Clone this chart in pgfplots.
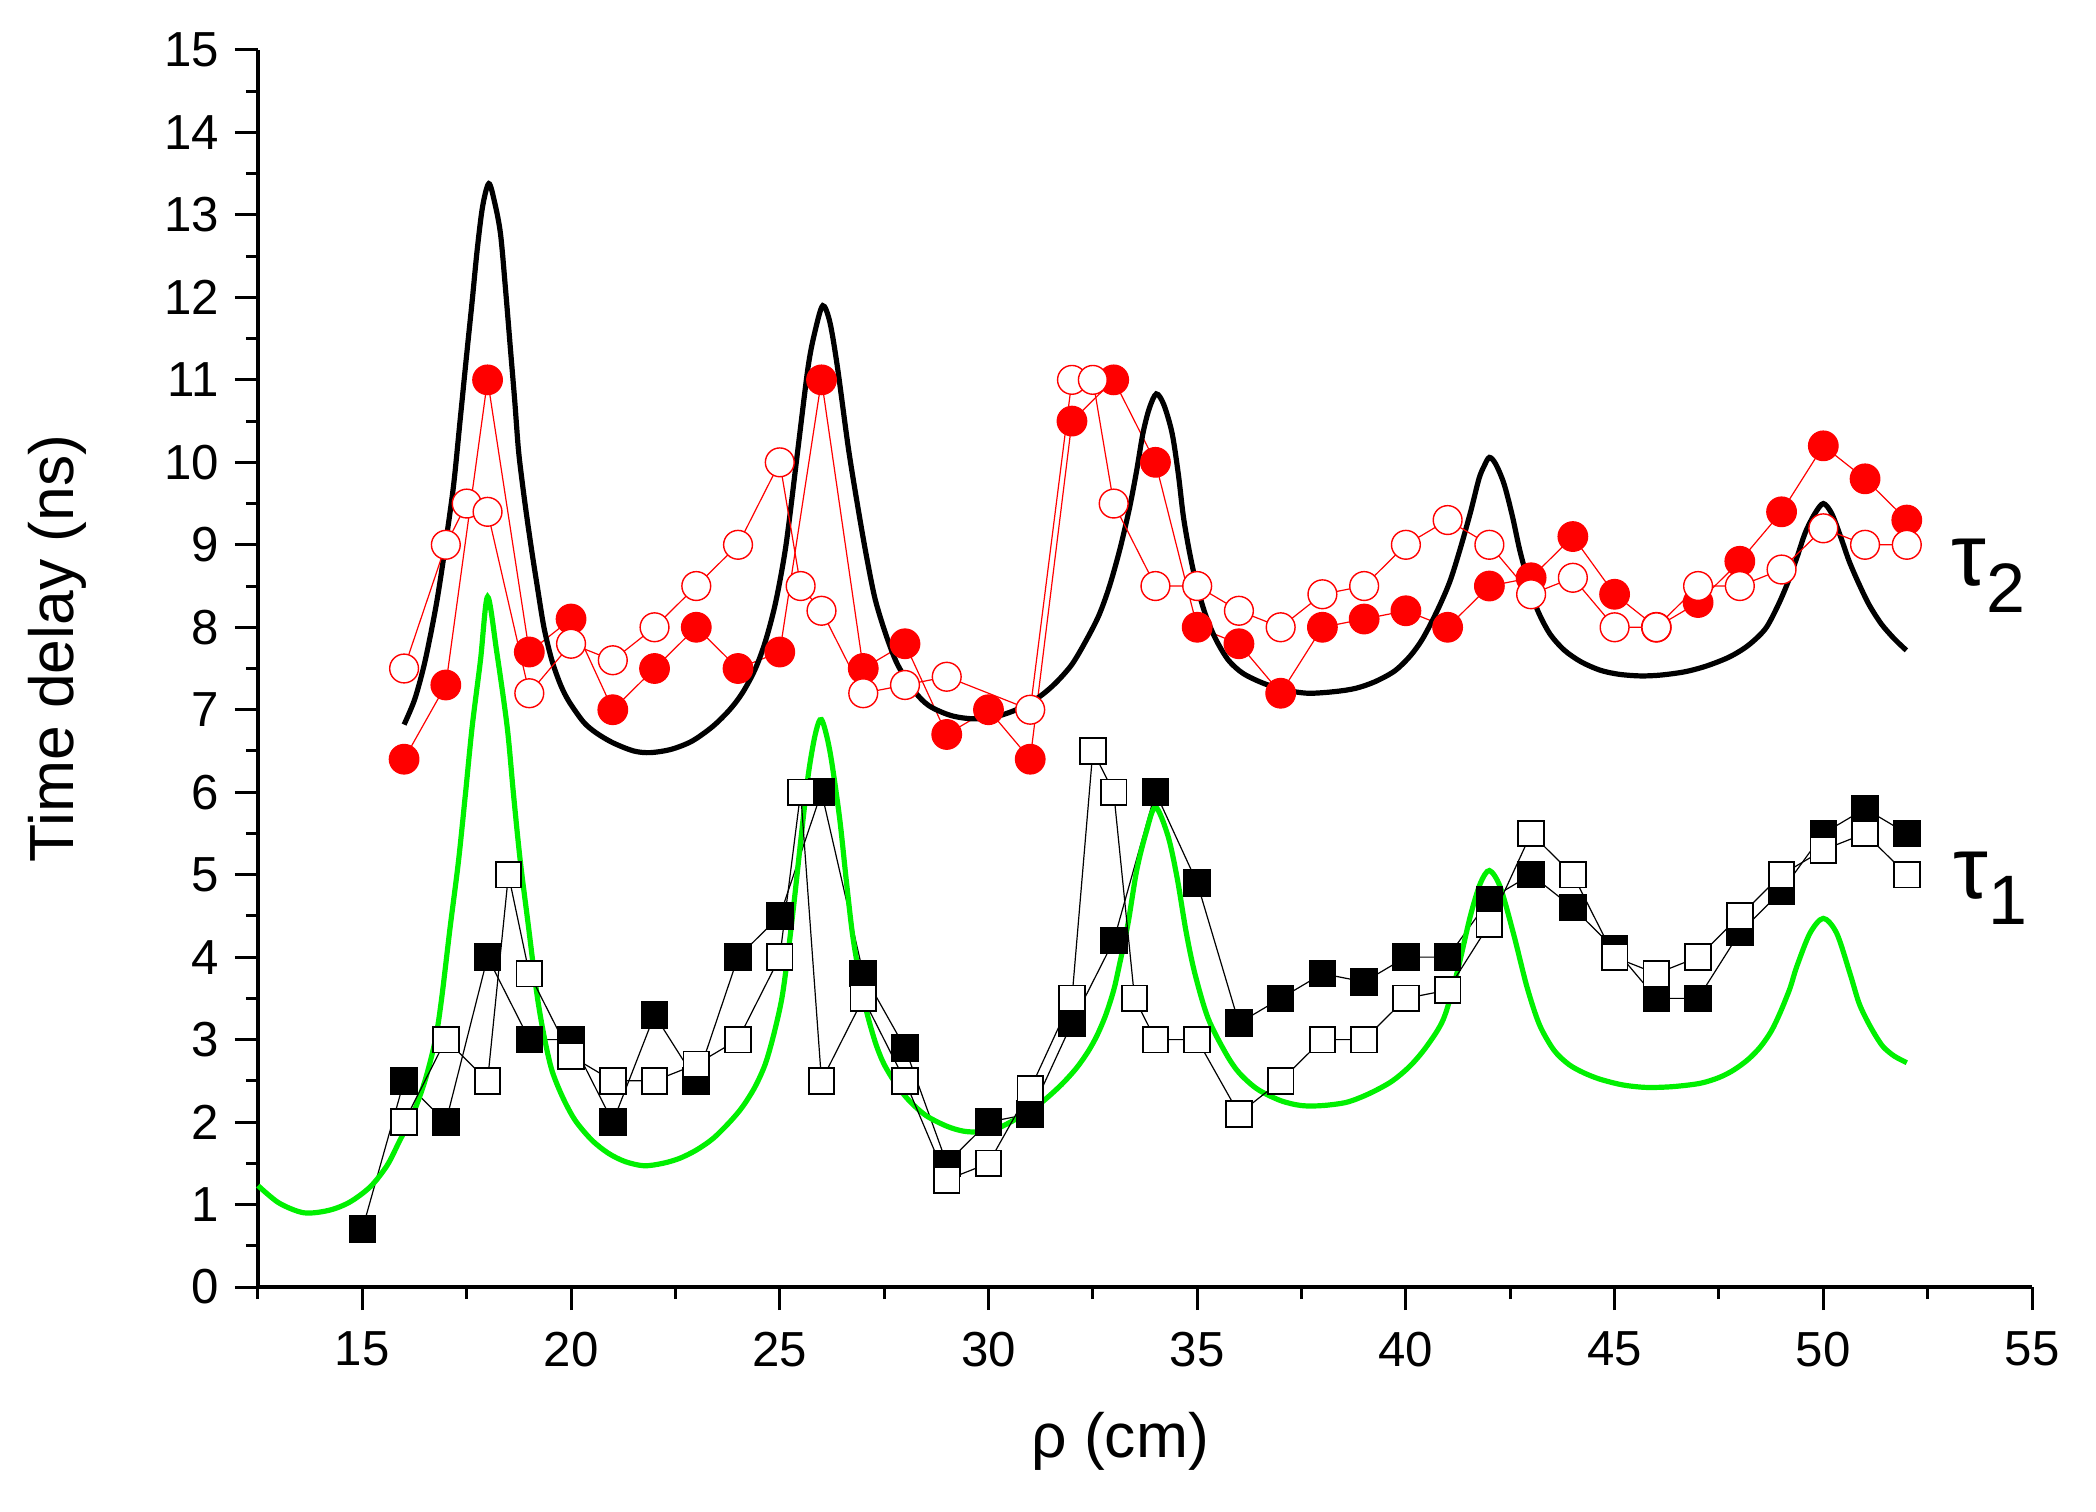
\documentclass[border=0pt]{standalone}
\usepackage{pgfplots}
\pgfplotsset{compat=1.18}
\usepackage{fontspec}
\setmainfont{Liberation Sans}
\definecolor{lgreen}{RGB}{0,240,0}
\begin{document}
\begin{tikzpicture}
\begin{axis}[name=ax, scale only axis, width=443.5pt, height=309.25pt,
 xmin=12.5, xmax=55, ymin=0, ymax=15,
 axis lines=left, axis line style={-, line width=0.85pt},
 xtick={15,20,...,55}, minor xtick={12.5,17.5,...,52.5},
 ytick={0,1,...,15}, minor ytick={0.5,1.5,...,14.5},
 tick align=outside, major tick length=5.75pt, minor tick length=3pt,
 every tick/.style={black, line width=0.75pt},
 tick label style={font=\fontsize{12.3}{13}\selectfont},
 xticklabel style={yshift=-2pt},
 yticklabel style={xshift=-0.5pt},
 /pgf/number format/assume math mode=true,
 xlabel={ρ (cm)}, ylabel={Time delay (ns)},
 label style={font=\fontsize{15.6}{16}\selectfont},
 xlabel style={at={(axis description cs:0.486,-0.1245)}, anchor=center},
 ylabel style={at={(axis description cs:-0.1133,0.516)}, anchor=center},
 clip=false]
% filled squares
\addplot[black, line width=0.3pt, mark=square*, mark size=3.3pt, mark options={solid, fill=black, draw=black}] coordinates {
(15,0.7)(16,2.5)(17,2.0)(18,4.0)(19,3.0)(20,3.0)(21,2.0)(22,3.3)(23,2.5)(24,4.0)(25,4.5)(26,6.0)(27,3.8)(28,2.9)(29,1.5)(30,2.0)(31,2.1)(32,3.2)(33,4.2)(34,6.0)(35,4.9)(36,3.2)(37,3.5)(38,3.8)(39,3.7)(40,4.0)(41,4.0)(42,4.7)(43,5.0)(44,4.6)(45,4.1)(46,3.5)(47,3.5)(48,4.3)(49,4.8)(50,5.5)(51,5.8)(52,5.5)};
% filled circles
\addplot[red, line width=0.3pt, mark=*, mark size=3.7pt, mark options={solid, fill=red, draw=red}] coordinates {
(16,6.4)(17,7.3)(18,11.0)(19,7.7)(20,8.1)(21,7.0)(22,7.5)(23,8.0)(24,7.5)(25,7.7)(26,11.0)(27,7.5)(28,7.8)(29,6.7)(30,7.0)(31,6.4)(32,10.5)(33,11.0)(34,10.0)(35,8.0)(36,7.8)(37,7.2)(38,8.0)(39,8.1)(40,8.2)(41,8.0)(42,8.5)(43,8.6)(44,9.1)(45,8.4)(46,8.0)(47,8.3)(48,8.8)(49,9.4)(50,10.2)(51,9.8)(52,9.3)};
% black curve
\addplot[black, line width=1.3pt, smooth, no markers] coordinates {
(16.0,6.82)(16.25,7.12)(16.47,7.52)(16.65,7.95)(16.79,8.33)(16.92,8.75)(17.03,9.14)(17.19,9.74)(17.35,10.55)(17.51,11.36)(17.63,11.95)(17.75,12.57)(17.88,13.1)(18.03,13.38)(18.17,13.15)(18.31,12.77)(18.43,12.1)(18.55,11.36)(18.65,10.75)(18.74,10.15)(18.84,9.72)(18.94,9.34)(19.06,8.92)(19.18,8.53)(19.35,8.0)(19.54,7.6)(19.75,7.3)(19.95,7.1)(20.3,6.85)(20.6,6.72)(21.0,6.6)(21.5,6.5)(21.9,6.48)(22.4,6.52)(22.9,6.62)(23.4,6.8)(23.8,7.0)(24.1,7.2)(24.4,7.48)(24.65,7.82)(24.9,8.3)(25.15,9.0)(25.42,10.1)(25.68,11.16)(25.85,11.6)(26.03,11.9)(26.2,11.7)(26.38,11.16)(26.65,10.15)(26.91,9.34)(27.1,8.8)(27.29,8.33)(27.55,7.9)(27.82,7.55)(28.2,7.24)(28.57,7.05)(29.1,6.93)(29.64,6.89)(30.2,6.92)(30.71,7.01)(31.2,7.15)(31.6,7.32)(32.0,7.55)(32.35,7.85)(32.65,8.15)(32.9,8.5)(33.15,8.95)(33.38,9.45)(33.55,9.9)(33.7,10.35)(33.85,10.65)(34.02,10.83)(34.2,10.7)(34.4,10.35)(34.55,9.85)(34.67,9.34)(34.82,8.9)(34.98,8.53)(35.2,8.15)(35.45,7.85)(35.75,7.6)(36.1,7.44)(36.59,7.32)(37.1,7.24)(37.66,7.2)(38.3,7.22)(38.8,7.26)(39.26,7.34)(39.73,7.47)(40.1,7.65)(40.4,7.86)(40.75,8.2)(41.05,8.55)(41.3,8.95)(41.55,9.4)(41.75,9.8)(41.87,9.95)(42.0,10.06)(42.15,9.98)(42.35,9.74)(42.55,9.35)(42.73,8.93)(42.95,8.52)(43.16,8.2)(43.45,7.92)(43.8,7.72)(44.2,7.58)(44.65,7.48)(45.1,7.43)(45.62,7.41)(46.1,7.42)(46.68,7.46)(47.2,7.53)(47.75,7.64)(48.2,7.78)(48.61,7.98)(48.9,8.25)(49.14,8.53)(49.37,8.85)(49.57,9.15)(49.8,9.38)(50.0,9.5)(50.2,9.38)(50.42,9.09)(50.62,8.8)(50.85,8.53)(51.1,8.27)(51.39,8.04)(51.7,7.86)(51.99,7.72)};
% green curve
\addplot[lgreen, line width=1.3pt, smooth, no markers] coordinates {
(12.5,1.23)(13.0,1.02)(13.6,0.90)(14.2,0.93)(14.7,1.03)(15.2,1.22)(15.6,1.48)(15.9,1.78)(16.2,2.08)(16.5,2.5)(16.75,3.0)(16.9,3.5)(17.1,4.35)(17.3,5.15)(17.47,5.98)(17.63,6.79)(17.83,7.6)(18.0,8.37)(18.22,7.7)(18.47,6.79)(18.62,5.98)(18.78,5.18)(18.98,4.37)(19.18,3.56)(19.35,3.05)(19.54,2.63)(19.8,2.3)(20.1,2.02)(20.5,1.78)(20.9,1.62)(21.3,1.52)(21.75,1.47)(22.2,1.5)(22.6,1.56)(23.0,1.66)(23.4,1.8)(23.8,2.0)(24.1,2.18)(24.4,2.42)(24.65,2.7)(24.85,3.05)(25.05,3.5)(25.2,4.05)(25.35,4.7)(25.5,5.4)(25.68,6.2)(25.85,6.7)(26.0,6.88)(26.2,6.5)(26.43,5.7)(26.6,4.9)(26.75,4.25)(26.95,3.65)(27.1,3.3)(27.3,2.95)(27.5,2.7)(27.8,2.45)(28.1,2.26)(28.5,2.08)(29.0,1.95)(29.4,1.89)(29.8,1.88)(30.2,1.92)(30.6,2.02)(30.9,2.11)(31.3,2.25)(31.74,2.45)(32.1,2.65)(32.38,2.85)(32.6,3.05)(32.81,3.3)(33.0,3.6)(33.13,3.89)(33.34,4.4)(33.55,5.05)(33.77,5.5)(34.0,5.82)(34.3,5.47)(34.52,4.96)(34.73,4.32)(34.94,3.81)(35.26,3.26)(35.69,2.83)(36.0,2.6)(36.44,2.4)(37.0,2.26)(37.5,2.2)(38.0,2.2)(38.58,2.24)(39.1,2.34)(39.65,2.49)(40.1,2.68)(40.5,2.92)(40.9,3.25)(41.22,3.8)(41.54,4.49)(41.78,4.89)(42.0,5.05)(42.26,4.85)(42.58,4.28)(42.9,3.64)(43.2,3.18)(43.55,2.87)(43.9,2.7)(44.25,2.6)(44.65,2.52)(45.2,2.45)(45.77,2.42)(46.4,2.43)(47.05,2.47)(47.5,2.54)(47.85,2.63)(48.2,2.76)(48.49,2.91)(48.75,3.1)(48.96,3.32)(49.2,3.62)(49.36,3.88)(49.68,4.29)(50.0,4.47)(50.32,4.29)(50.64,3.8)(50.85,3.45)(51.04,3.24)(51.25,3.05)(51.44,2.91)(51.7,2.8)(52.0,2.72)};
% open squares
\addplot[black, line width=0.3pt, mark=square*, mark size=3.2pt, mark options={solid, fill=white, draw=black, line width=0.45pt}] coordinates {
(16,2.0)(17,3.0)(18,2.5)(18.5,5.0)(19,3.8)(20,2.8)(21,2.5)(22,2.5)(23,2.7)(24,3.0)(25,4.0)(25.5,6.0)(26,2.5)(27,3.5)(28,2.5)(29,1.3)(30,1.5)(31,2.4)(32,3.5)(32.5,6.5)(33,6.0)(33.5,3.5)(34,3.0)(35,3.0)(36,2.1)(37,2.5)(38,3.0)(39,3.0)(40,3.5)(41,3.6)(42,4.4)(43,5.5)(44,5.0)(45,4.0)(46,3.8)(47,4.0)(48,4.5)(49,5.0)(50,5.3)(51,5.5)(52,5.0)};
% open circles
\addplot[red, line width=0.3pt, mark=*, mark size=3.6pt, mark options={solid, fill=white, draw=red, line width=0.35pt}] coordinates {
(16,7.5)(17,9.0)(17.5,9.5)(18,9.4)(19,7.2)(20,7.8)(21,7.6)(22,8.0)(23,8.5)(24,9.0)(25,10.0)(25.5,8.5)(26,8.2)(27,7.2)(28,7.3)(29,7.4)(31,7.0)(32,11.0)(32.5,11.0)(33,9.5)(34,8.5)(35,8.5)(36,8.2)(37,8.0)(38,8.4)(39,8.5)(40,9.0)(41,9.3)(42,9.0)(43,8.4)(44,8.6)(45,8.0)(46,8.0)(47,8.5)(48,8.5)(49,8.7)(50,9.2)(51,9.0)(52,9.0)};
\node[anchor=base west, inner sep=0pt] at (axis cs:53.05,8.51) {\fontsize{22}{22}\selectfont τ\raisebox{-6.7pt}{\fontsize{17.5}{17.5}\selectfont 2}};
\node[anchor=base west, inner sep=0pt] at (axis cs:53.1,4.715) {\fontsize{22}{22}\selectfont τ\raisebox{-6.7pt}{\fontsize{17.5}{17.5}\selectfont 1}};
\end{axis}
\pgfresetboundingbox
\path ([shift={(-64.5pt,-56pt)}]ax.south west) rectangle ([shift={(459.5pt,321.75pt)}]ax.south west);
\end{tikzpicture}
\end{document}
